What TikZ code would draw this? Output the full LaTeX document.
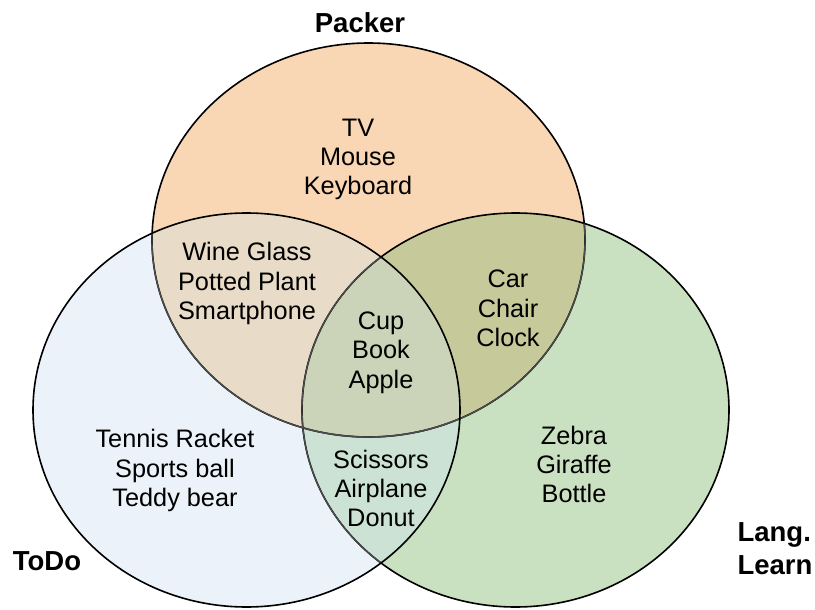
\documentclass[tikz,border=0pt]{standalone}
\usepackage{fontspec}
\setmainfont{Liberation Sans}
\definecolor{cO}{HTML}{F9D6B4}
\definecolor{cB}{HTML}{EBF2F9}
\definecolor{cG}{HTML}{C9E0C1}
\definecolor{cOB}{HTML}{E8DCC8}
\definecolor{cOG}{HTML}{C6CA9B}
\definecolor{cBG}{HTML}{CBE2D5}
\definecolor{cOBG}{HTML}{CBD4B8}
\tikzset{
  edge/.style={draw=black,line width=1.6pt},
  edgeg/.style={draw=black!70,line width=1.3pt},
  items/.style={align=center,font=\fontsize{25.3}{29.3}\selectfont,inner sep=0pt},
  setlabel/.style={align=center,font=\fontsize{27.5}{33}\selectfont\bfseries,inner sep=0pt}
}
\begin{document}
\begin{tikzpicture}[x=1pt,y=-1pt]
\def\pO{(368.5,240) ellipse [x radius=216.5pt, y radius=197pt]}
\def\pB{(246.5,410) ellipse [x radius=213.5pt, y radius=197pt]}
\def\pG{(515.5,410) ellipse [x radius=213.5pt, y radius=197pt]}
\useasboundingbox (0,0) rectangle (815,610);
\fill[white] (0,0) rectangle (815,610);
% region fills
\fill[cO] \pO;
\fill[cG] \pG;
\fill[cB] \pB;
\begin{scope}\clip \pO; \fill[cOB] \pB; \fill[cOG] \pG; \end{scope}
\begin{scope}\clip \pB; \fill[cBG] \pG; \end{scope}
\begin{scope}\clip \pO; \clip \pB; \fill[cOBG] \pG; \end{scope}
% outlines
\draw[edge] \pO;
\draw[edge] \pG;
\begin{scope}\clip \pB; \draw[edgeg] \pO; \draw[edgeg] \pG; \end{scope}
\begin{scope}\clip \pG; \draw[edgeg] \pO; \end{scope}
\draw[edge] \pB;
% labels
\node[setlabel] (packer) at (360,23) {Packer};
\node[setlabel] (todo) at (47,561) {ToDo};
\node[setlabel,align=left] (lang) at (775,549) {Lang.\\Learn};
% items
\node[items] (onlyO) at (358,159.5) {TV\\Mouse\\Keyboard};
\node[items] (OB) at (247,283.5) {Wine Glass\\Potted Plant\\Smartphone};
\node[items] (OG) at (508,308.5) {Car\\Chair\\Clock};
\node[items] (OBG) at (381,352.5) {Cup\\Book\\Apple};
\node[items] (onlyB) at (175,470.5) {Tennis Racket\\Sports ball\\Teddy bear};
\node[items] (BG) at (381,488.5) {Scissors\\Airplane\\Donut};
\node[items] (onlyG) at (574,464.5) {Zebra\\Giraffe\\Bottle};
\end{tikzpicture}
\end{document}
